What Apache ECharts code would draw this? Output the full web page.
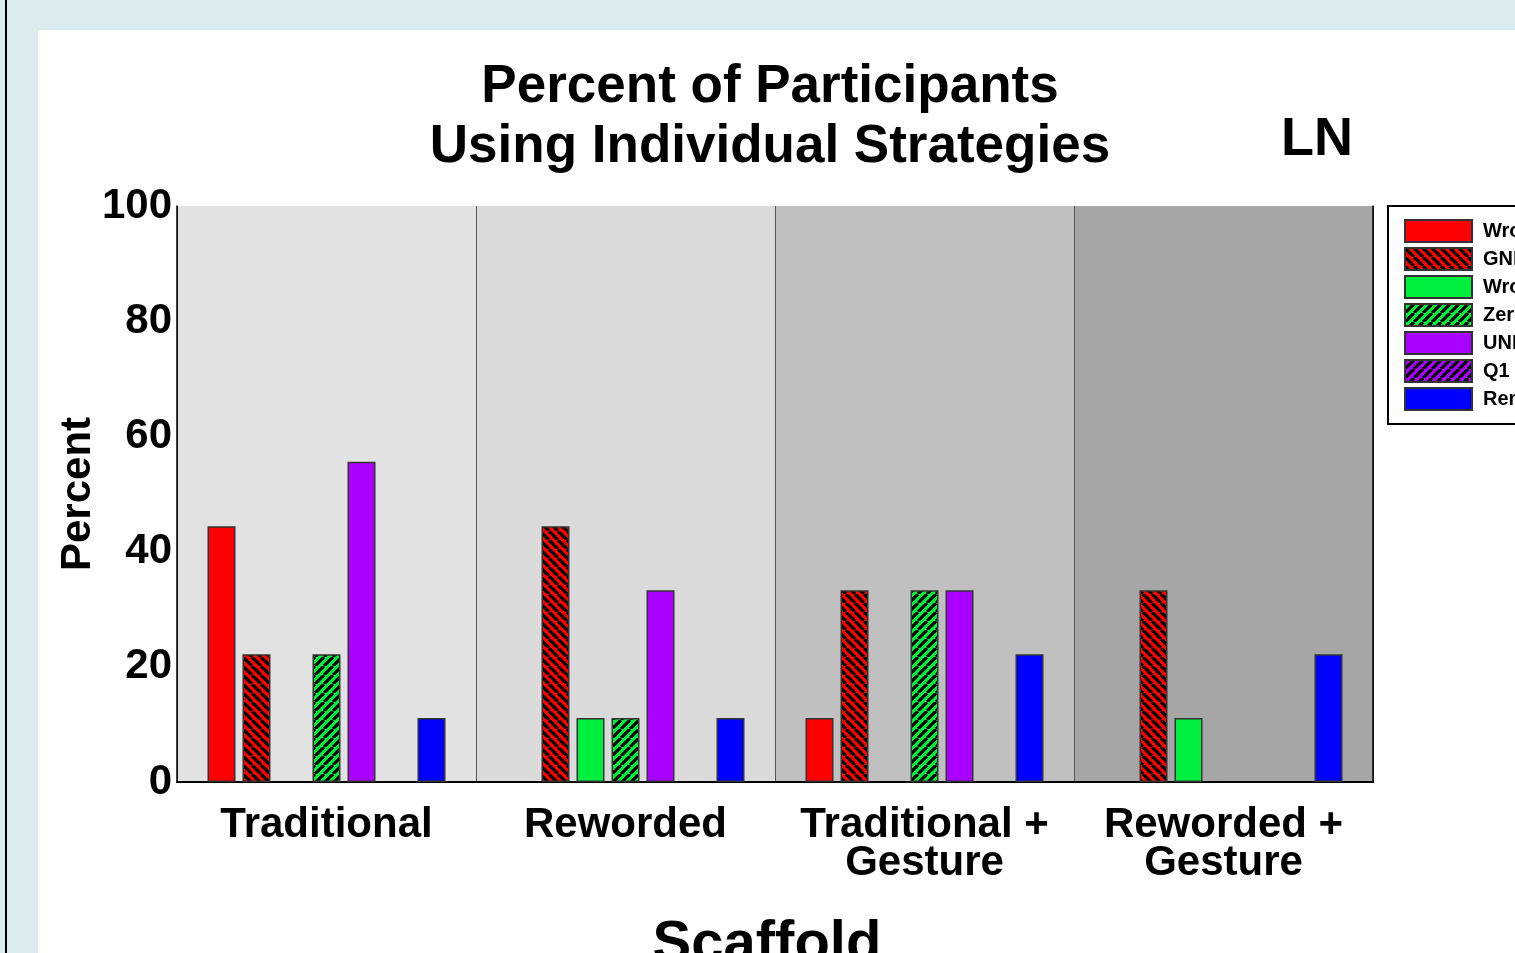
<!DOCTYPE html>
<html>
<head>
<meta charset="utf-8">
<script src="https://cdn.jsdelivr.net/npm/echarts@6/dist/echarts.min.js"></script>
<style>
  html, body { margin: 0; padding: 0; background: #daecee; overflow: hidden; }
  .edge { position: absolute; left: 5px; top: 0; width: 2px; height: 953px; background: #000; }
  .panel { position: absolute; left: 38px; top: 30px; width: 1477px; height: 923px; background: #fff; }
  #chart { position: absolute; left: 0; top: 0; width: 1515px; height: 953px; }
</style>
</head>
<body>
<div class="edge"></div>
<div class="panel"></div>
<div id="chart"></div>
<script>
  // categories (x axis)
  const scaffolds = ['Traditional', 'Reworded', 'Traditional +\nGesture', 'Reworded +\nGesture'];

  // percent of participants per strategy
  const wrongAnswer = [44.4, 0, 11.1, 0];
  const gnlStrategy = [22.2, 44.4, 33.3, 33.3];
  const wrongOperation = [0, 11.1, 0, 11.1];
  const zeroStrategy = [22.2, 11.1, 33.3, 0];
  const uniStrategy = [55.6, 33.3, 33.3, 0];
  const q1Strategy = [0, 0, 0, 0];
  const remainder = [11.1, 11.1, 22.2, 22.2];

  const yTicks = [0, 20, 40, 60, 80, 100];

  // hatch fill: dir 1 = "\" stripes, -1 = "/" stripes
  function hatch(base, dir) {
    const size = 9;
    const c = document.createElement('canvas');
    c.width = size; c.height = size;
    const ctx = c.getContext('2d');
    ctx.fillStyle = base;
    ctx.fillRect(0, 0, size, size);
    ctx.strokeStyle = '#000';
    ctx.lineWidth = 3.2;
    for (let k = -1; k <= 1; k++) {
      ctx.beginPath();
      if (dir > 0) {
        ctx.moveTo(k * size, 0);
        ctx.lineTo(k * size + size, size);
      } else {
        ctx.moveTo(k * size + size, 0);
        ctx.lineTo(k * size, size);
      }
      ctx.stroke();
    }
    return { image: c, repeat: 'repeat' };
  }

  const font = '"Liberation Sans", Arial, sans-serif';

  function bar(name, data, color) {
    return {
      name: name,
      type: 'bar',
      // empty bars get no outline so nothing shows on the axis
      data: data.map(v => v === 0 ? { value: 0, itemStyle: { borderWidth: 0 } } : v),
      barWidth: 28,
      barGap: '25%',
      itemStyle: { color: color, borderColor: '#333', borderWidth: 1.5 }
    };
  }

  const chart = echarts.init(document.getElementById('chart'), null, { renderer: 'canvas' });

  chart.setOption({
    backgroundColor: 'transparent',
    animation: false,
    textStyle: { fontFamily: font },
    title: [
      {
        text: 'Percent of Participants\nUsing Individual Strategies',
        left: 765,
        top: 52,
        textAlign: 'center',
        textStyle: { fontFamily: font, fontSize: 53, fontWeight: 'bold', color: '#000', lineHeight: 60 }
      },
      {
        text: 'LN',
        left: 1312,
        top: 108,
        textAlign: 'center',
        textStyle: { fontFamily: font, fontSize: 54, fontWeight: 'bold', color: '#000' }
      }
    ],
    legend: {
      orient: 'vertical',
      left: 1388,
      top: 206,
      padding: [13, 60, 13, 16],
      icon: 'rect',
      itemWidth: 67,
      itemHeight: 22,
      itemGap: 4,
      backgroundColor: '#fff',
      borderColor: '#000',
      borderWidth: 2,
      textStyle: { fontFamily: font, fontSize: 20, fontWeight: 'bold', color: '#000', lineHeight: 22, padding: [0, 0, 0, 6] }
    },
    grid: { left: 177, right: 142, top: 206, bottom: 171, outerBoundsMode: 'none' },
    xAxis: [
      {
        type: 'category',
        data: scaffolds,
        axisLine: { show: true, lineStyle: { color: '#000', width: 2 } },
        axisTick: { show: false },
        axisLabel: { fontFamily: font, fontSize: 42, fontWeight: 'bold', color: '#000', lineHeight: 38, margin: 24, interval: 0 },
        splitLine: { show: true, lineStyle: { color: '#555', width: 1 } },
        splitArea: { show: true, areaStyle: { color: ['#e2e2e2', '#dadada', '#c0c0c0', '#a6a6a6'] } },
        name: 'Scaffold',
        nameLocation: 'middle',
        nameGap: 134,
        nameTextStyle: { fontFamily: font, fontSize: 58, fontWeight: 'bold', color: '#000', padding: [0, 16, 0, 0] }
      },
      {
        type: 'category',
        position: 'top',
        data: scaffolds,
        axisLine: { show: true, lineStyle: { color: '#000', width: 1.5 } },
        axisTick: { show: false },
        axisLabel: { show: false }
      }
    ],
    yAxis: [
      {
        type: 'value',
        min: yTicks[0],
        max: yTicks[yTicks.length - 1],
        interval: 20,
        axisLine: { show: true, lineStyle: { color: '#000', width: 1.5 } },
        axisTick: { show: false },
        axisLabel: { fontFamily: font, fontSize: 42, fontWeight: 'bold', color: '#000', margin: 5 },
        splitLine: { show: true, lineStyle: { color: '#222', width: 1 } },
        name: 'Percent',
        nameLocation: 'middle',
        nameGap: 78,
        nameMoveOverlap: false,
        nameTextStyle: { fontFamily: font, fontSize: 42, fontWeight: 'bold', color: '#000' }
      },
      {
        type: 'value',
        position: 'right',
        min: 0,
        max: 100,
        interval: 20,
        axisLine: { show: true, lineStyle: { color: '#000', width: 1.5 } },
        axisTick: { show: false },
        axisLabel: { show: false },
        splitLine: { show: false }
      }
    ],
    series: [
      bar('Wrong Answer', wrongAnswer, '#ff0000'),
      bar('GNL Strategy', gnlStrategy, hatch('#ff0000', 1)),
      bar('Wrong Operation', wrongOperation, '#00f040'),
      bar('Zero Strategy', zeroStrategy, hatch('#00f040', -1)),
      bar('UNI Strategy', uniStrategy, '#aa00ff'),
      bar('Q1 Strategy', q1Strategy, hatch('#aa00ff', -1)),
      bar('Remainder', remainder, '#0000ff')
    ]
  });
</script>
</body>
</html>
